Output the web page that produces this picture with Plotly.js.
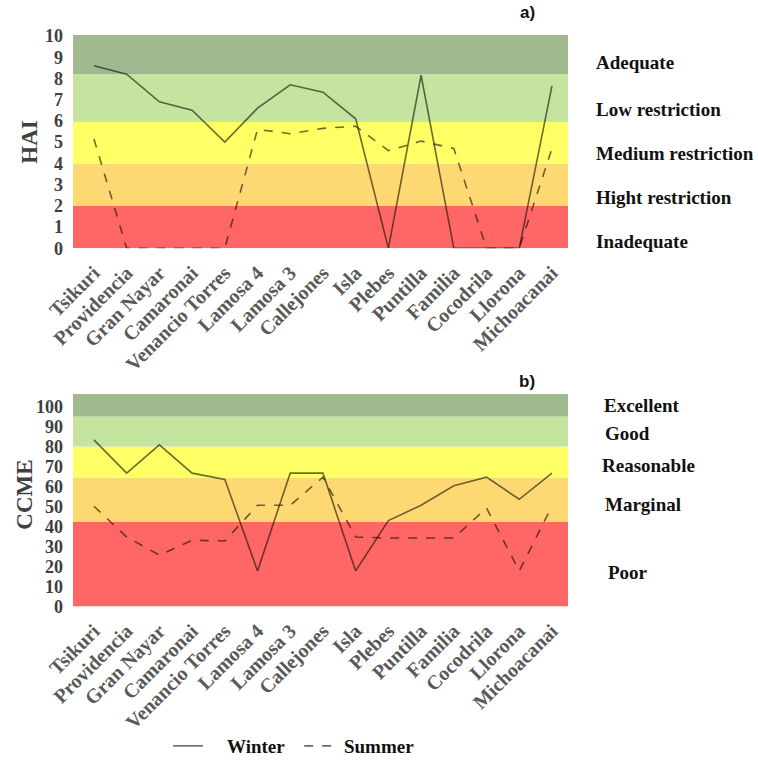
<!DOCTYPE html>
<html>
<head>
<meta charset="utf-8">
<script src="https://cdn.plot.ly/plotly-3.0.1.min.js"></script>
<style>html,body{margin:0;padding:0;background:#fff;}#chart{width:758px;height:765px;}</style>
</head>
<body>
<div id="chart"></div>
<script>
const sites = ["Tsikuri","Providencia","Gran Nayar","Camaronai","Venancio Torres","Lamosa 4","Lamosa 3","Callejones","Isla","Plebes","Puntilla","Familia","Cocodrila","Llorona","Michoacanai"];
const haiWinter = [8.6, 8.2, 6.9, 6.5, 5.0, 6.6, 7.7, 7.35, 6.1, 0, 8.15, 0, 0, 0, 7.65];
const haiSummer = [5.15, 0, 0, 0, 0, 5.6, 5.4, 5.65, 5.75, 4.6, 5.05, 4.7, 0, 0, 4.7];
const ccmeWinter = [83.5, 66.8, 81, 66.8, 63.7, 17.8, 66.8, 66.8, 17.8, 43, 50.7, 60.5, 64.8, 53.7, 66.8];
const ccmeSummer = [50.2, 34.8, 25.7, 33.2, 32.8, 50.7, 50.7, 64.8, 34.8, 34.3, 34.3, 34.3, 49.3, 17.8, 50.2];

const haiBands = [[0,2,"#ff6666"],[2,4,"#fed872"],[4,5.95,"#ffff66"],[5.95,8.2,"#c4e4a0"],[8.2,10.1,"#a0b98f"]];
const haiClasses = ["Adequate","Low restriction","Medium restriction","Hight restriction","Inadequate"];
const ccmeBands = [[0,42.3,"#ff6666"],[42.3,64.5,"#fed872"],[64.5,80.2,"#ffff66"],[80.2,95.2,"#c4e4a0"],[95.2,106.5,"#a0b98f"]];
const ccmeClasses = ["Excellent","Good","Reasonable","Marginal","Poor"];

const W = 758, H = 765;
const px = v => v / W;
const py = v => 1 - v / H;

const lineCol = "rgba(20,20,0,0.62)";
const serif = "Liberation Serif, Times New Roman, serif";

const traces = [
  {x: sites, y: haiWinter, xaxis: "x", yaxis: "y", mode: "lines", name: "&nbsp;&nbsp;&nbsp;&nbsp;<b>Winter</b>&nbsp;&nbsp;",
   line: {color: lineCol, width: 1.6, dash: "solid"}},
  {x: sites, y: haiSummer, xaxis: "x", yaxis: "y", mode: "lines", name: "&nbsp;<b>Summer</b>",
   line: {color: lineCol, width: 1.6, dash: "dash"}},
  {x: sites, y: ccmeWinter, xaxis: "x2", yaxis: "y2", mode: "lines", name: "Winter", showlegend: false,
   line: {color: lineCol, width: 1.6, dash: "solid"}},
  {x: sites, y: ccmeSummer, xaxis: "x2", yaxis: "y2", mode: "lines", name: "Summer", showlegend: false,
   line: {color: lineCol, width: 1.6, dash: "dash"}}
];

const shapes = [];
haiBands.forEach(b => shapes.push({type: "rect", xref: "x domain", yref: "y", x0: 0, x1: 1, y0: b[0], y1: b[1],
  fillcolor: b[2], line: {width: 0}, layer: "below"}));
ccmeBands.forEach(b => shapes.push({type: "rect", xref: "x2 domain", yref: "y2", x0: 0, x1: 1, y0: b[0], y1: b[1],
  fillcolor: b[2], line: {width: 0}, layer: "below"}));

const classFont = {family: serif, size: 19, color: "#111"};
const annotations = [];
const haiLabelY = [63, 110, 154, 198, 242];
haiClasses.forEach((t, i) => annotations.push({text: "<b>" + t + "</b>", xref: "paper", yref: "paper",
  x: px(594), y: py(haiLabelY[i]), xanchor: "left", yanchor: "middle", showarrow: false, font: classFont}));
const ccmeLabelX = [602, 603, 600, 603, 606];
const ccmeLabelY = [407, 435, 467, 506, 574];
ccmeClasses.forEach((t, i) => annotations.push({text: "<b>" + t + "</b>", xref: "paper", yref: "paper",
  x: px(ccmeLabelX[i]), y: py(ccmeLabelY[i]), xanchor: "left", yanchor: "middle", showarrow: false, font: classFont}));
annotations.push({text: "<b>a)</b>", xref: "paper", yref: "paper", x: px(537), y: py(13), xanchor: "right", yanchor: "middle",
  showarrow: false, font: {family: "Liberation Sans, Arial, sans-serif", size: 17, color: "#111"}});
annotations.push({text: "<b>b)</b>", xref: "paper", yref: "paper", x: px(537), y: py(382), xanchor: "right", yanchor: "middle",
  showarrow: false, font: {family: "Liberation Sans, Arial, sans-serif", size: 17, color: "#111"}});
annotations.push({text: "<b>HAI</b>", xref: "paper", yref: "paper", x: px(30), y: py(142), xanchor: "center", yanchor: "middle",
  textangle: -90, showarrow: false, font: {family: serif, size: 23, color: "#404040"}});
annotations.push({text: "<b>CCME</b>", xref: "paper", yref: "paper", x: px(25), y: py(496), xanchor: "center", yanchor: "middle",
  textangle: -90, showarrow: false, font: {family: serif, size: 23, color: "#404040"}});

const tickFontY = {family: serif, size: 18, color: "#404040"};
const tickFontX = {family: serif, size: 20, color: "#595959"};
const xRange = [-0.64, 14.49];

const xaxisBase = {type: "category", range: xRange, showgrid: false, zeroline: false, showline: false,
  ticks: "", tickangle: -45, tickfont: tickFontX, automargin: false, fixedrange: true, ticklabelstandoff: 8};

const layout = {
  width: W, height: H,
  margin: {l: 0, r: 0, t: 0, b: 0},
  paper_bgcolor: "#fff", plot_bgcolor: "rgba(0,0,0,0)",
  showlegend: true,
  legend: {orientation: "h", x: px(168), y: py(748), xanchor: "left", yanchor: "middle",
    font: {family: serif, size: 19, color: "#111"}, tracegroupgap: 0,
    bgcolor: "rgba(0,0,0,0)"},
  xaxis: Object.assign({}, xaxisBase, {domain: [px(73), px(568)], anchor: "y",
    tickvals: sites, ticktext: sites.map(s => "<b>" + s + "</b>")}),
  yaxis: {domain: [py(249), py(35)], range: [0, 10.05], tickvals: [0,1,2,3,4,5,6,7,8,9,10],
    ticktext: [0,1,2,3,4,5,6,7,8,9,10].map(v => "<b>" + v + "</b>"),
    showgrid: false, zeroline: false, showline: false, ticks: "", ticklabelstandoff: 9,
    tickfont: tickFontY, automargin: false, anchor: "x", fixedrange: true},
  xaxis2: Object.assign({}, xaxisBase, {domain: [px(73), px(568)], anchor: "y2",
    tickvals: sites, ticktext: sites.map(s => "<b>" + s + "</b>")}),
  yaxis2: {domain: [py(608), py(395)], range: [0, 106.5], tickvals: [0,10,20,30,40,50,60,70,80,90,100],
    ticktext: [0,10,20,30,40,50,60,70,80,90,100].map(v => "<b>" + v + "</b>"),
    showgrid: false, zeroline: false, showline: false, ticks: "", ticklabelstandoff: 9,
    tickfont: tickFontY, automargin: false, anchor: "x2", fixedrange: true},
  shapes: shapes,
  annotations: annotations
};

Plotly.newPlot("chart", traces, layout, {displayModeBar: false, staticPlot: true});
</script>
</body>
</html>
